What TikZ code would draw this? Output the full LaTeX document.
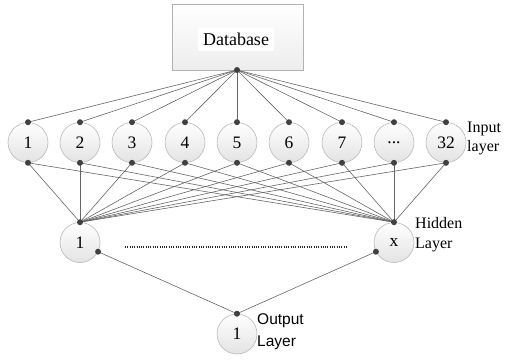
\documentclass[tikz,border=0pt]{standalone}
\usepackage{fontspec}
\setmainfont{Liberation Serif}
\newfontfamily\sansf{Liberation Sans}
\newcommand\mydots{...}
\begin{document}
\begin{tikzpicture}[x=1pt,y=-1pt,
  neuron/.style={circle,draw=gray!55,line width=0.6pt,top color=white,bottom color=gray!22,minimum size=40pt,inner sep=0pt,font=\fontsize{17.5}{19}\selectfont},
  dbbox/.style={draw=gray!60,line width=0.6pt,top color=white,bottom color=gray!14,minimum width=131pt,minimum height=66pt},
  link/.style={draw=gray!80!black,line width=0.6pt},
  dot/.style={circle,fill=black!75,inner sep=0pt,minimum size=6pt},
  lbl/.style={font=\fontsize{16}{19}\selectfont,align=left,anchor=west,inner sep=0pt}
]
\useasboundingbox (0,0) rectangle (510,360);
\node[dbbox] (db) at (237.5,37) {};
\node[fill=white,inner xsep=5pt,inner ysep=5pt,font=\fontsize{18}{20}\selectfont] (dbt) at (236,39.5) {Database};
\coordinate (dbd) at (237,70);

\foreach \i/\x/\t in {1/28/1,2/80/2,3/132/3,4/185/4,5/237/5,6/289/6,7/342/7,8/394/\mydots,9/446/32}{
  \node[neuron] (in\i) at (\x,142.5) {\t};
}
\node[neuron] (h1) at (80,242.5) {1};
\node[neuron] (hx) at (394,242.5) {x};
\node[neuron] (out) at (237,334) {1};

\foreach \i in {1,2,3,4,5,6,7,8,9}{
  \draw[link] (dbd) -- (in\i.north);
  \draw[link] (in\i.south) -- (h1.north);
  \draw[link] (in\i.south) -- (hx.north);
}
\draw[link] (h1.-27) -- (out.north);
\draw[link] (hx.207) -- (out.north);

\foreach \i in {1,2,3,4,5,6,7,8,9}{
  \node[dot] at (in\i.north) {};
  \node[dot] at (in\i.south) {};
}
\node[dot] at (dbd) {};
\node[dot] at (h1.north) {};
\node[dot] at (hx.north) {};
\node[dot] at (h1.-27) {};
\node[dot] at (hx.207) {};
\node[dot] at (out.north) {};

\draw[line width=1.2pt,dash pattern=on 1pt off 1.3pt,black!85] (125,247) -- (348,247);

\node[lbl] (inl) at (467,138) {Input\\layer};
\node[lbl,font=\fontsize{16}{20.5}\selectfont] (hl) at (415,234.5) {Hidden\\Layer};
\node[lbl,font=\sansf\fontsize{15.5}{22}\selectfont] (ol) at (257,331.5) {Output\\ Layer};
\end{tikzpicture}
\end{document}
